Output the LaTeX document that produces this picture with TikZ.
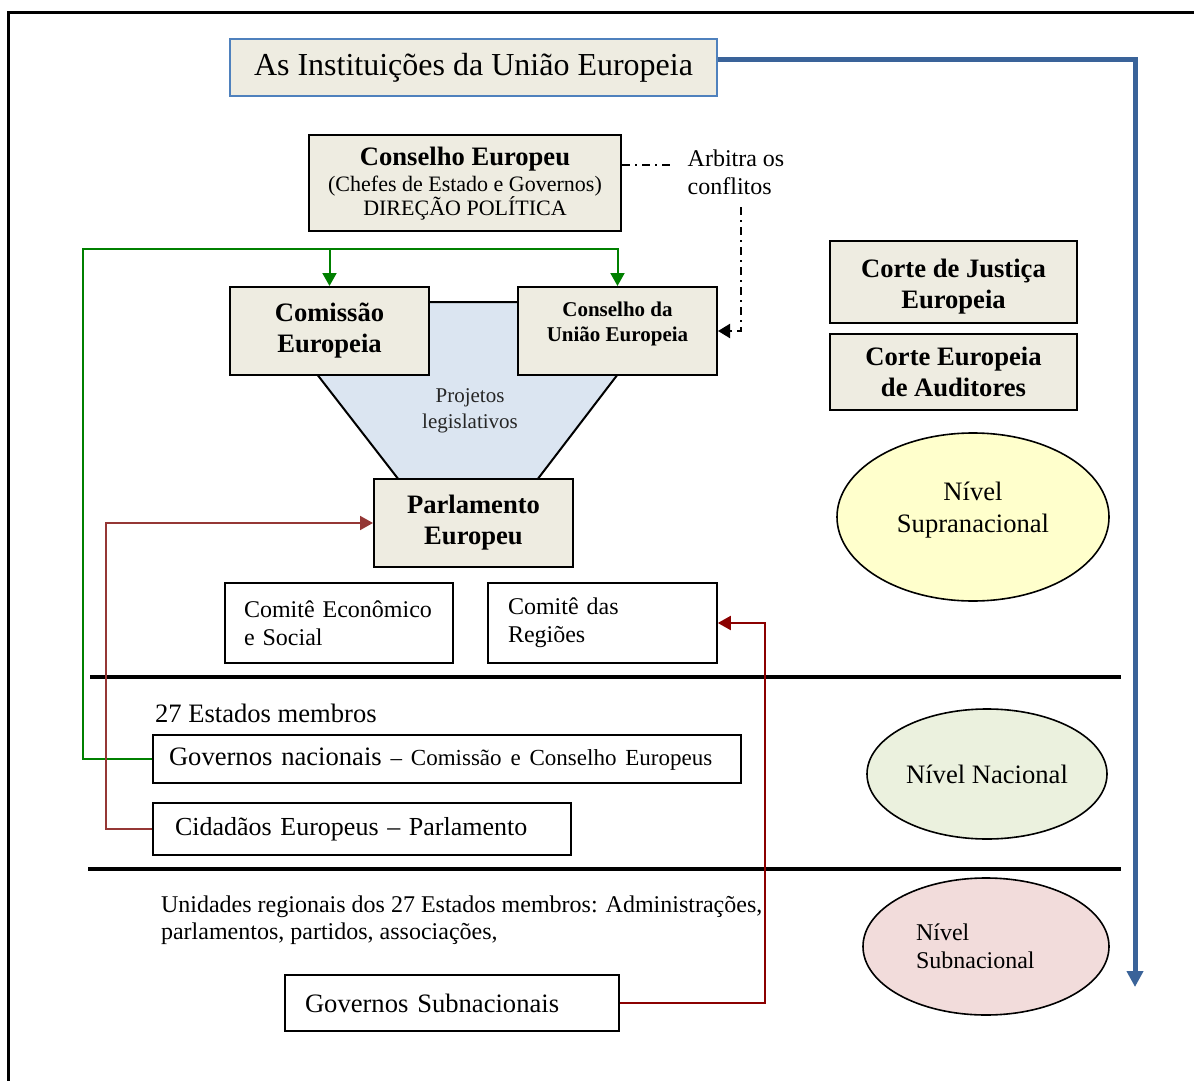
\documentclass[tikz,border=0pt]{standalone}
\usepackage{fontspec}
\setmainfont{Liberation Serif}
\usetikzlibrary{arrows.meta,shapes.geometric}
\definecolor{beige}{HTML}{EEECE1}
\definecolor{titleblue}{HTML}{4F81BD}
\definecolor{arrowblue}{HTML}{3A6399}
\definecolor{trapblue}{HTML}{DBE5F1}
\definecolor{darkgreen}{HTML}{008000}
\definecolor{brickred}{HTML}{953735}
\definecolor{darkred}{HTML}{8B0000}
\definecolor{supyellow}{HTML}{FFFFCC}
\definecolor{nacgreen}{HTML}{EBF1DE}
\definecolor{subpink}{HTML}{F2DCDB}

\begin{document}
\begin{tikzpicture}[x=0.5pt, y=-0.5pt,
		inst/.style={draw, fill=beige, line width=1pt, align=center, inner sep=0pt,
			font=\fontsize{13.3}{15.5}\selectfont\bfseries},
		plain/.style={draw, fill=white, line width=0.8pt, align=left, inner ysep=0pt, inner xsep=10pt},
		level/.style={ellipse, draw, line width=0.8pt, inner sep=0pt, align=center,
			font=\fontsize{13.3}{16}\selectfont},
		sepline/.style={line width=2pt},
		arbline/.style={line width=1pt, dash pattern=on 4pt off 2.5pt on 1pt off 2.5pt}]
		\useasboundingbox (0,0) rectangle (1194,1081);

		% Draw the outer frame
		\draw[line width=1.5pt] (8,1081) -- (8,13) -- (1194,13);

		% Draw the legislative funnel behind the boxes
		\draw[line width=1pt, fill=trapblue] (261,302) -- (673,302) -- (537,480) -- (399,480) -- cycle;
		\node[font=\fontsize{10.5}{13}\selectfont, text=black!85, align=center] (projetos) at (470,411) {Projetos\\legislativos};

		% Draw the title
		\node[draw=titleblue, fill=beige, line width=1pt, minimum width=243.5pt, minimum height=28.5pt,
			font=\fontsize{16}{19}\selectfont] (title) at (473.5,67.5) {\raisebox{-1pt}{As Instituições da União Europeia}};

		% Draw the supranational institutions
		\node[inst, minimum width=156pt, minimum height=48pt, font=\fontsize{11}{12}\selectfont] (ceu) at (465,183)
			{{\fontsize{13.3}{15}\selectfont\bfseries Conselho Europeu}\\[1pt](Chefes de Estado e Governos)\\DIREÇÃO POLÍTICA\\[-10pt]};
		\node[inst, minimum width=99.5pt, minimum height=44pt] (comissao) at (329.5,331) {Comissão\\Europeia};
		\node[inst, minimum width=99.5pt, minimum height=44pt, font=\fontsize{10.5}{12.5}\selectfont\bfseries] (conselhoUE) at (617.5,331) {Conselho da\\União Europeia\\[-3.5pt]};
		\node[inst, minimum width=99.5pt, minimum height=44pt] (parlamento) at (473.5,523) {Parlamento\\Europeu};
		\node[inst, minimum width=123.5pt, minimum height=41pt] (justica) at (953.5,282) {\\[-2pt]Corte de Justiça\\Europeia};
		\node[inst, minimum width=123.5pt, minimum height=38pt] (auditores) at (953.5,372) {Corte Europeia\\de Auditores};

		\node[align=left, font=\fontsize{12}{14}\selectfont] (arbitra) at (736,172) {Arbitra os\\conflitos};

		% Draw the committees
		\node[plain, text width=95pt, inner xsep=9.5pt, minimum height=40pt, font=\fontsize{12}{14}\selectfont] (cesocial) at (339,623) {Comitê Econômico\\e Social};
		\node[plain, text width=94.5pt, minimum height=40pt, font=\fontsize{12}{14}\selectfont] (regioes) at (602.5,623) {Comitê das\\Regiões};

		% Draw the level separators
		\draw[sepline] (90,677) -- (1121,677);
		\draw[sepline] (88,869) -- (1121,869);

		% Draw the national level
		\node[anchor=west, font=\fontsize{13.3}{16}\selectfont] (estados) at (148,713) {27 Estados membros};
		\node[plain, text width=278pt, inner xsep=8pt, minimum height=24pt, font=\fontsize{13.3}{16}\selectfont] (govnac) at (447,759)
			{\mbox{Governos nacionais {\fontsize{11.5}{14}\selectfont – Comissão e Conselho Europeus}}};
		\node[plain, text width=187pt, inner xsep=11pt, minimum height=26pt, font=\fontsize{13}{16}\selectfont] (cidadaos) at (362,829) {Cidadãos Europeus – Parlamento};

		% Draw the subnational level
		\node[anchor=west, align=left, font=\fontsize{12}{13.5}\selectfont] (unidades) at (154,920)
			{Unidades regionais dos 27 Estados membros: Administrações,\\parlamentos, partidos, associações,};
		\node[plain, text width=147pt, minimum height=28pt, font=\fontsize{13.3}{16}\selectfont] (govsub) at (452,1003) {Governos Subnacionais};

		% Draw the level ellipses
		\node[level, fill=supyellow, minimum width=136pt, minimum height=84pt] (supra) at (973,517) {Nível\\Supranacional\\[-6pt]};
		\node[level, fill=nacgreen, minimum width=120pt, minimum height=65pt] (nacional) at (987,774) {Nível Nacional};
		\node[level, fill=subpink, minimum width=123pt, minimum height=68.5pt, align=left, text width=70pt,
			font=\fontsize{12}{14}\selectfont] (subnac) at (986,946.5) {Nível\\Subnacional};

		% Draw the connectors
		\coordinate (blueend) at (1135,987);
		\draw[arrowblue, line width=2.5pt, -{Triangle[width=8pt, length=8pt]}] ([yshift=3.75pt]title.east) -| (blueend);

		\coordinate (arbA) at (672,165);
		\coordinate (arbB) at (741,207);
		\draw[arbline] (ceu.east |- arbA) -- (arbA);
		\draw[arbline, -{Triangle[width=7pt, length=6pt]}] (arbB) |- (conselhoUE.east);

		\coordinate (gleft) at (83,249);
		\draw[darkgreen, line width=1pt, -{Triangle[width=7pt, length=6.5pt]}] (govnac.west) -| (gleft) -| (conselhoUE.north);
		\draw[darkgreen, line width=1pt, -{Triangle[width=7pt, length=6.5pt]}] (comissao.north |- gleft) -- (comissao.north);

		\coordinate (rleft) at (106,523);
		\draw[brickred, line width=1pt, -{Triangle[width=7pt, length=6.5pt]}] (cidadaos.west) -| (rleft) -- (parlamento.west);

		\coordinate (dright) at (765,623);
		\draw[darkred, line width=1pt, -{Triangle[width=7pt, length=6.5pt]}] (govsub.east) -| (dright) -- (regioes.east);

	\end{tikzpicture}
\end{document}
